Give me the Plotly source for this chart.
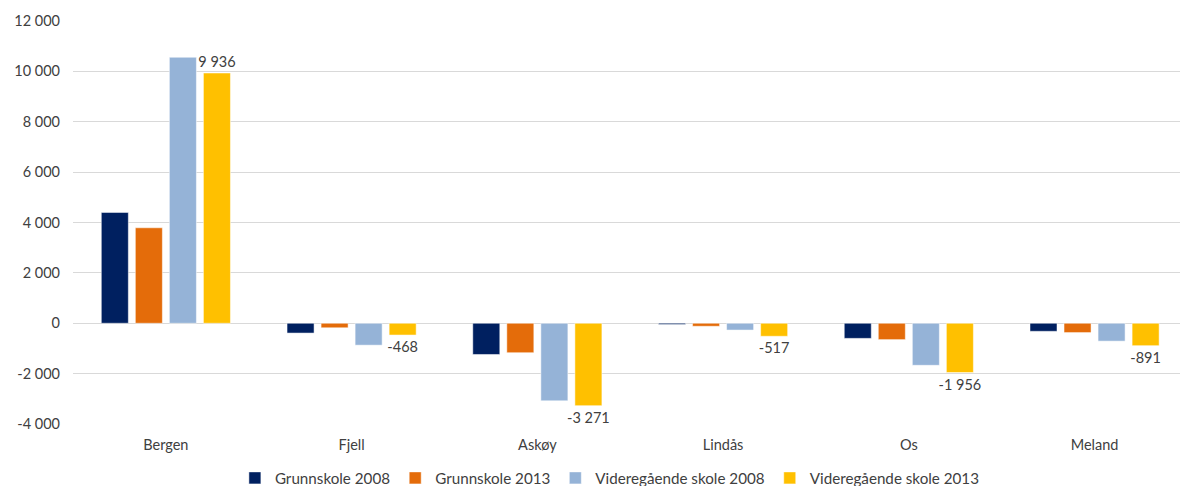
import plotly.graph_objects as go

categories = ["Bergen", "Fjell", "Askøy", "Lindås", "Os", "Meland"]
series_names = ["Grunnskole 2008", "Grunnskole 2013", "Videregående skole 2008", "Videregående skole 2013"]
grunn_2008 = [4400, -390, -1240, -50, -600, -320]
grunn_2013 = [3790, -180, -1170, -120, -650, -370]
vgs_2008 = [10560, -870, -3080, -270, -1670, -710]
vgs_2013 = [9936, -468, -3271, -517, -1956, -891]
colors = ["#002060", "#E46C0A", "#95B3D7", "#FFC000"]
tick_vals = [-4000, -2000, 0, 2000, 4000, 6000, 8000, 10000, 12000]

FONT = "Lato"
FS = 14.5
TXT = "#404040"


def fmt(v):
    s = f"{abs(v):,}".replace(",", " ")
    return ("-" if v < 0 else "") + s


fig = go.Figure()
all_series = [grunn_2008, grunn_2013, vgs_2008, vgs_2013]
for i, (name, vals) in enumerate(zip(series_names, all_series)):
    kw = {}
    if i == 3:
        kw = dict(text=[fmt(v) for v in vals], textposition="outside",
                  textfont=dict(size=FS, color=TXT, family=FONT),
                  constraintext="none", cliponaxis=False)
    fig.add_trace(go.Bar(x=categories, y=vals, name=name,
                         marker=dict(color=colors[i], line=dict(color="white", width=0.5)),
                         **kw))

fig.update_layout(
    width=1182, height=486,
    barmode="group", bargap=0.267, bargroupgap=0.206,
    plot_bgcolor="white", paper_bgcolor="white",
    margin=dict(l=73, r=2, t=21, b=62, autoexpand=False),
    font=dict(family=FONT, size=FS, color=TXT),
    xaxis=dict(showgrid=False, showline=False, ticks="", tickfont=dict(size=FS),
               range=[-0.5, 5.46], ticklabelstandoff=10),
    yaxis=dict(range=[-4000, 12000], tickvals=tick_vals, ticktext=[fmt(v) for v in tick_vals],
               showgrid=True, gridcolor="#D9D9D9", gridwidth=1, zeroline=True,
               zerolinecolor="#D9D9D9", zerolinewidth=1, ticks="", showline=False,
               ticklabelstandoff=12, tickfont=dict(size=FS)),
    legend=dict(orientation="h", x=0.485, xanchor="center", y=-0.134, yanchor="middle",
                font=dict(size=15.2), itemwidth=30, traceorder="normal"),
    showlegend=True,
)

fig.write_html("out.html", post_script="document.body.style.margin='0';",
               config={"displayModeBar": False})
